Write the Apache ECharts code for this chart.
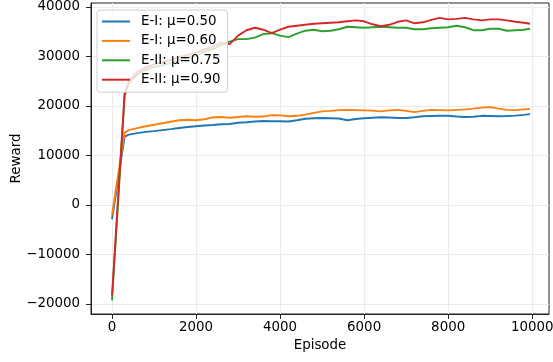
<!DOCTYPE html>
<html>
<head>
<meta charset="utf-8">
<script src="https://cdn.jsdelivr.net/npm/echarts@6/dist/echarts.min.js"></script>
<style>html,body{margin:0;padding:0;background:#fff}#c{width:553px;height:362px}</style>
</head>
<body>
<div id="c"></div>
<script>
const episodes = [0,300,400,600,800,1000,1200,1400,1600,1800,2000,2200,2400,2600,2800,3000,3200,3400,3600,3800,4000,4200,4400,4600,4800,5000,5200,5400,5600,5800,6000,6200,6400,6600,6800,7000,7200,7400,7600,7800,8000,8200,8400,8600,8800,9000,9200,9400,9600,9800,9950];
const seriesNames = ["E-I: μ=0.50","E-I: μ=0.60","E-II: μ=0.75","E-II: μ=0.90"];
const blue = [-2900,13800,14200,14500,14750,14900,15100,15300,15550,15750,15900,16050,16150,16300,16350,16600,16700,16850,16950,16900,16900,16850,17100,17400,17500,17550,17500,17450,17100,17350,17500,17600,17700,17650,17550,17550,17700,17900,17950,18000,18000,17850,17750,17800,18000,17950,17900,17950,18050,18200,18350];
const orange = [-2000,14600,15100,15500,15900,16200,16500,16800,17100,17200,17100,17300,17700,17750,17600,17750,17900,17800,17850,18150,18100,17900,18000,18250,18600,18900,19000,19150,19200,19150,19100,19050,18900,19100,19200,19000,18750,19000,19200,19150,19100,19200,19300,19450,19650,19750,19450,19200,19150,19300,19400];
const green = [-19300,22000,24500,26300,27300,27900,28200,28700,29300,29800,30200,30900,31500,32300,33000,33500,33500,33800,34500,34700,34200,33900,34600,35200,35400,35100,35200,35500,36000,35900,35800,35900,36000,35900,35800,35800,35500,35500,35700,35800,35900,36200,35900,35300,35300,35600,35600,35200,35300,35400,35600];
const red = [-18300,22500,25000,26800,27800,28400,28800,29300,29900,30300,30800,31400,32000,32800,32500,34200,35300,35800,35400,34700,35400,36000,36200,36400,36600,36700,36800,36900,37100,37300,37100,36500,36100,36400,37000,37300,36700,36900,37400,37800,37500,37600,37800,37500,37300,37500,37500,37300,37000,36800,36600];
const xTicks = [0,2000,4000,6000,8000,10000];
const yTicks = [-20000,-10000,0,10000,20000,30000,40000];
const colors = ["#1f77b4","#ff7f0e","#2ca02c","#d62728"];
const values = [blue, orange, green, red];

const FONT = "'DejaVu Sans'";
const FS = 13.4;
const chart = echarts.init(document.getElementById('c'), null, {renderer:'canvas'});
const fmt = v => String(v).replace('-', '\u2212');
chart.setOption({
  animation:false,
  backgroundColor:'#fff',
  grid:{left:91,right:4,top:3,bottom:48,containLabel:false,outerBoundsMode:'none',show:true,borderColor:'#222',borderWidth:1,backgroundColor:'transparent',z:0},
  legend:{
    z:20,
    orient:'vertical', left:97, top:10,
    data:seriesNames,
    icon:'rect', itemWidth:28, itemHeight:2, itemGap:4.4,
    padding:[4,7,5,5],
    backgroundColor:'rgba(255,255,255,0.8)', borderColor:'#d0d0d0', borderWidth:1, borderRadius:3,
    textStyle:{fontFamily:FONT,fontSize:FS,color:'#000',lineHeight:15,padding:[0,0,0,6]}
  },
  xAxis:{
    type:'value', min:-500, max:10400,
    name:'Episode', nameLocation:'middle', nameGap:25, nameMoveOverlap:false,
    nameTextStyle:{fontFamily:FONT,fontSize:FS,color:'#000'},
    axisLine:{show:true,onZero:false,lineStyle:{color:'#222',width:1}},
    axisTick:{show:true,length:5,lineStyle:{color:'#222',width:1},customValues:xTicks},
    axisLabel:{fontFamily:FONT,fontSize:FS,color:'#000',margin:7,customValues:xTicks,formatter:fmt},
    splitLine:{show:true,lineStyle:{color:'#ebebeb',width:1}},
    splitNumber:5
  },
  yAxis:{
    type:'value', min:-22050, max:40800,
    name:'Reward', nameLocation:'middle', nameGap:68, nameRotate:90, nameMoveOverlap:false,
    nameTextStyle:{fontFamily:FONT,fontSize:FS,color:'#000'},
    axisLine:{show:true,onZero:false,lineStyle:{color:'#222',width:1}},
    axisTick:{show:true,length:5,lineStyle:{color:'#222',width:1},customValues:yTicks},
    axisLabel:{fontFamily:FONT,fontSize:FS,color:'#000',margin:11,customValues:yTicks,formatter:fmt},
    splitLine:{show:true,lineStyle:{color:'#ebebeb',width:1}},
    splitNumber:6
  },
  series: seriesNames.map((n,i)=>({
    name:n, type:'line', showSymbol:false, symbol:'none',
    data: episodes.map((e,j)=>[e, values[i][j]]),
    lineStyle:{color:colors[i],width:1.9},
    itemStyle:{color:colors[i]},
    z:2
  }))
});
</script>
</body>
</html>
